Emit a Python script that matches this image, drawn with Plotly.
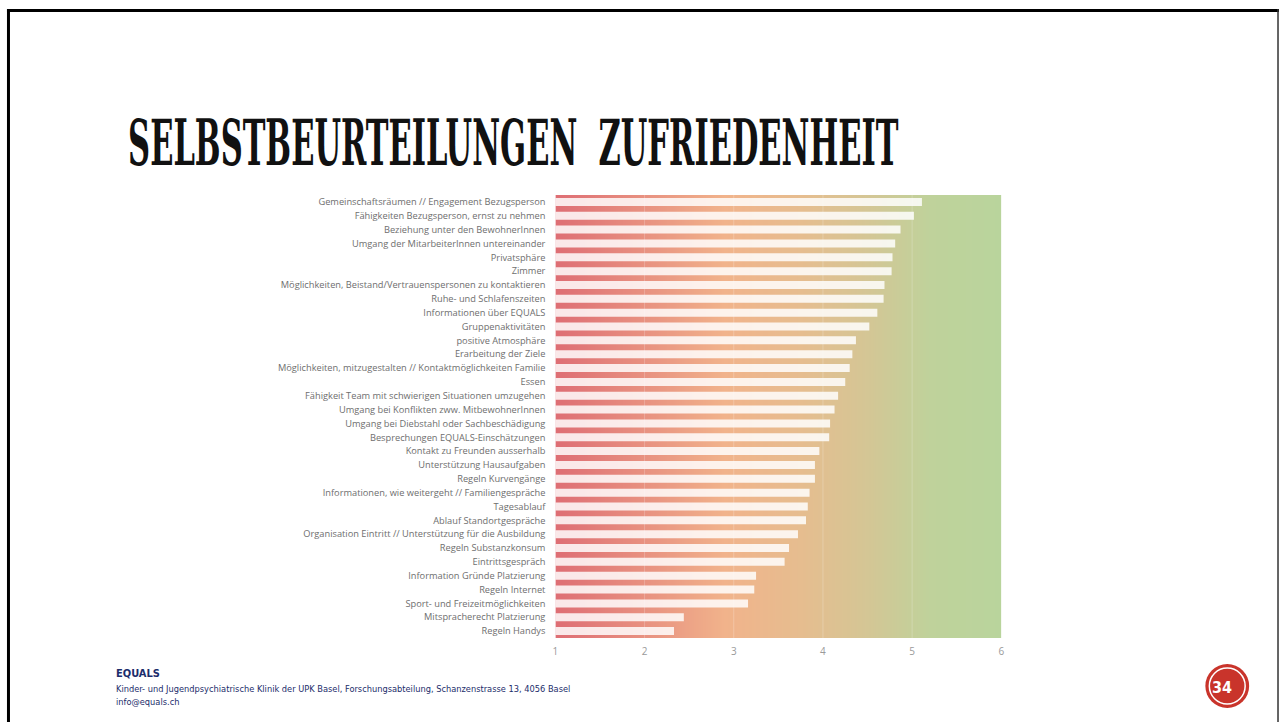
import numpy as np
import plotly.graph_objects as go

W, H = 1283, 722

categories = [
    "Gemeinschaftsräumen // Engagement Bezugsperson",
    "Fähigkeiten Bezugsperson, ernst zu nehmen",
    "Beziehung unter den BewohnerInnen",
    "Umgang der MitarbeiterInnen untereinander",
    "Privatsphäre",
    "Zimmer",
    "Möglichkeiten, Beistand/Vertrauenspersonen zu kontaktieren",
    "Ruhe- und Schlafenszeiten",
    "Informationen über EQUALS",
    "Gruppenaktivitäten",
    "positive Atmosphäre",
    "Erarbeitung der Ziele",
    "Möglichkeiten, mitzugestalten // Kontaktmöglichkeiten Familie",
    "Essen",
    "Fähigkeit Team mit schwierigen Situationen umzugehen",
    "Umgang bei Konflikten zww. MitbewohnerInnen",
    "Umgang bei Diebstahl oder Sachbeschädigung",
    "Besprechungen EQUALS-Einschätzungen",
    "Kontakt zu Freunden ausserhalb",
    "Unterstützung Hausaufgaben",
    "Regeln Kurvengänge",
    "Informationen, wie weitergeht // Familiengespräche",
    "Tagesablauf",
    "Ablauf Standortgespräche",
    "Organisation Eintritt // Unterstützung für die Ausbildung",
    "Regeln Substanzkonsum",
    "Eintrittsgespräch",
    "Information Gründe Platzierung",
    "Regeln Internet",
    "Sport- und Freizeitmöglichkeiten",
    "Mitspracherecht Platzierung",
    "Regeln Handys",
]

values = [5.11, 5.02, 4.87, 4.81, 4.78, 4.77, 4.69, 4.68, 4.61, 4.52,
          4.37, 4.33, 4.30, 4.25, 4.17, 4.13, 4.08, 4.07, 3.96, 3.91,
          3.91, 3.85, 3.83, 3.81, 3.72, 3.62, 3.57, 3.25, 3.23, 3.16,
          2.44, 2.33]

x_ticks = [1, 2, 3, 4, 5, 6]
x_range = [1, 6]

title_text = "SELBSTBEURTEILUNGEN  ZUFRIEDENHEIT"
footer_org = "EQUALS"
footer_addr = "Kinder- und Jugendpsychiatrische Klinik der UPK Basel, Forschungsabteilung, Schanzenstrasse 13, 4056 Basel"
footer_mail = "info@equals.ch"
page_no = "34"

# background colour ramp (decorative gradient, red -> orange -> green)
grad_x = np.linspace(x_range[0], x_range[1], 101)
grad_z = [list(grad_x) for _ in categories]
grad_scale = [
    [0.00, "#de6e74"],
    [0.22, "#e99582"],
    [0.38, "#f1b38b"],
    [0.55, "#e6bd8f"],
    [0.70, "#d4c695"],
    [0.84, "#bfd29b"],
    [1.00, "#b9d49c"],
]

NARROW = "Liberation Sans Narrow, Arial Narrow, DejaVu Sans Condensed, sans-serif"

fig = go.Figure()
fig.add_trace(go.Heatmap(
    x=grad_x, y=categories, z=grad_z, zmin=x_range[0], zmax=x_range[1],
    colorscale=grad_scale, zsmooth="best", showscale=False, hoverinfo="skip",
))
fig.add_trace(go.Bar(
    x=values, y=categories, orientation="h", base=0,
    marker=dict(color="rgba(255,255,255,0.84)", line=dict(width=0)),
    hoverinfo="x+y",
))

def px(x):
    return x / W

def py(y):
    return 1 - y / H

shapes = []
# faint vertical grid lines above the gradient
for t in x_ticks[1:-1]:
    shapes.append(dict(type="line", xref="x", yref="paper", x0=t, x1=t,
                       y0=py(638), y1=py(195), layer="above",
                       line=dict(color="rgba(255,255,255,0.22)", width=1)))
# slide frame
shapes += [
    dict(type="line", xref="paper", yref="paper", x0=px(4), x1=px(1282), y0=py(10.5), y1=py(10.5),
         line=dict(color="#000", width=3)),
    dict(type="line", xref="paper", yref="paper", x0=px(5.5), x1=px(5.5), y0=py(9), y1=py(725),
         line=dict(color="#000", width=3)),
    dict(type="line", xref="paper", yref="paper", x0=px(1281), x1=px(1281), y0=py(9), y1=py(725),
         line=dict(color="#333", width=1.5)),
]
# page badge
cx, cy, r = 1230, 686, 22
shapes.append(dict(type="circle", xref="paper", yref="paper",
                   x0=px(cx - r), x1=px(cx + r), y0=py(cy + r), y1=py(cy - r),
                   fillcolor="#c9342b", line=dict(width=0)))
r2 = 18
shapes.append(dict(type="circle", xref="paper", yref="paper",
                   x0=px(cx - r2), x1=px(cx + r2), y0=py(cy + r2), y1=py(cy - r2),
                   fillcolor="rgba(0,0,0,0)", line=dict(color="#ffffff", width=1.5)))

annotations = [
    dict(text=title_text, xref="paper", yref="paper", x=px(124), y=py(142),
         xanchor="left", yanchor="middle", showarrow=False,
         font=dict(family="DejaVu Serif Condensed", size=64, color="#111111", weight="bold")),
    dict(text="<b>" + footer_org + "</b>", xref="paper", yref="paper", x=px(112), y=py(673),
         xanchor="left", yanchor="middle", showarrow=False,
         font=dict(family=NARROW, size=11, color="#1c2d6b")),
    dict(text=footer_addr, xref="paper", yref="paper", x=px(112), y=py(688),
         xanchor="left", yanchor="middle", showarrow=False,
         font=dict(family=NARROW, size=9.2, color="#1c2d6b")),
    dict(text=footer_mail, xref="paper", yref="paper", x=px(112), y=py(701),
         xanchor="left", yanchor="middle", showarrow=False,
         font=dict(family=NARROW, size=9.2, color="#1c2d6b")),
    dict(text="<b>" + page_no + "</b>", xref="paper", yref="paper", x=px(1225), y=py(687),
         xanchor="center", yanchor="middle", showarrow=False,
         font=dict(family=NARROW, size=16, color="#ffffff")),
]

fig.update_layout(
    width=W, height=H, autosize=False,
    margin=dict(l=0, r=0, t=0, b=0),
    paper_bgcolor="#ffffff", plot_bgcolor="#ffffff",
    showlegend=False, bargap=0.42,
    shapes=shapes, annotations=annotations,
    xaxis=dict(domain=[px(555), px(1003)], range=x_range, tickvals=x_ticks,
               showgrid=False, zeroline=False, showline=False, ticks="",
               tickfont=dict(family="Open Sans", size=10, color="#9a9a9a"),
               ticklabelstandoff=6, fixedrange=True),
    yaxis=dict(domain=[py(638), py(195)], autorange="reversed", type="category",
               showgrid=False, zeroline=False, showline=False, ticks="",
               tickfont=dict(family="Open Sans", size=9.25, color="#6e6e6e"),
               ticklabelstandoff=9, fixedrange=True),
)

post = """
document.body.style.margin = '0';
document.body.style.overflow = 'hidden';
var gd = document.getElementById('{plot_id}');
function squeeze(){
  var ts = gd.querySelectorAll('text');
  ts.forEach(function(t){
    if (t.textContent.indexOf('SELBSTBEURTEILUNGEN') === 0 && !t.getAttribute('data-sq')) {
      var b = t.getBBox();
      var x0 = b.x;
      var old = t.getAttribute('transform') || '';
      t.setAttribute('transform', old + ' translate(' + x0 + ',0) scale(0.53,1) translate(' + (-x0) + ',0)');
      t.setAttribute('data-sq', '1');
    }
  });
}
squeeze();
gd.on('plotly_afterplot', squeeze);
setTimeout(squeeze, 50);
"""

fig.write_html("out.html", post_script=post, config={"displayModeBar": False})
